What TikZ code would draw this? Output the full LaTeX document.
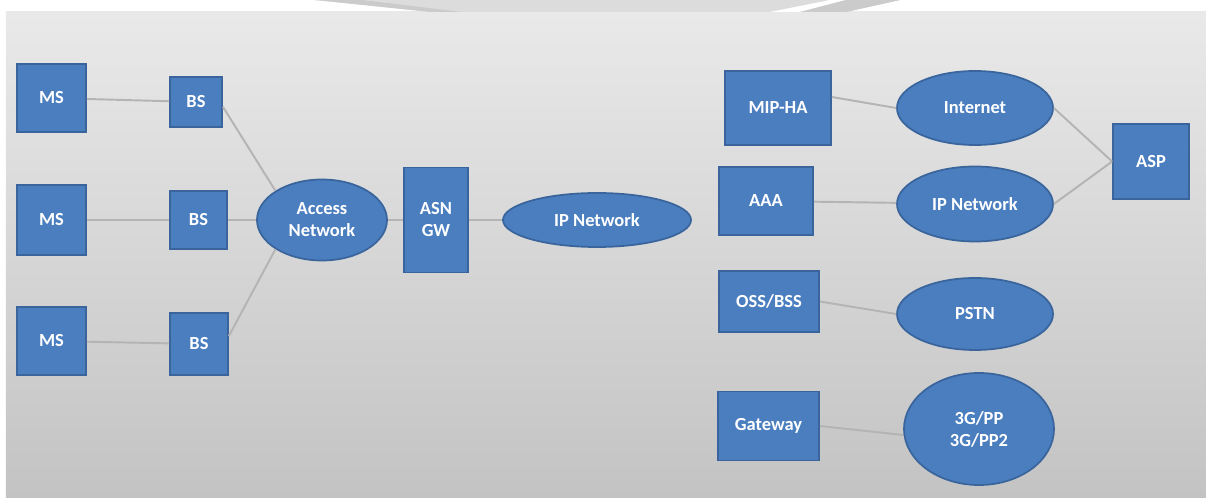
\documentclass[tikz,border=0pt]{standalone}
\usepackage{fontspec}
\setmainfont{Carlito}
\usepackage{tikz}
\usetikzlibrary{positioning}
\usetikzlibrary{shapes.geometric}
\definecolor{boxblue}{HTML}{4A7EBF}
\definecolor{boxedge}{HTML}{3A659C}
\definecolor{linkgray}{HTML}{B4B4B4}
\definecolor{paneltop}{HTML}{E9E9E9}
\definecolor{panelbottom}{HTML}{C3C3C3}
\definecolor{markgray}{HTML}{DCDCDC}
\definecolor{markdark}{HTML}{CBCBCB}

\begin{document}
\begin{tikzpicture}[align=center, node distance=1cm, font=\fontsize{10.5}{12.5}\selectfont\bfseries,
    unit/.style={rectangle, draw=boxedge, fill=boxblue, line width=1pt, text=white, inner sep=0pt},
    net/.style={ellipse, draw=boxedge, fill=boxblue, line width=1pt, text=white, inner sep=0pt},
    link/.style={draw=linkgray, line width=1.1pt}]

\useasboundingbox (0,0) rectangle (24.12,9.96);

%% Background
\shade[top color=paneltop, bottom color=panelbottom] (0.12,0) rectangle (24.12,9.72);
\fill[markgray] (6.30,9.96) -- (18.00,9.96) -- (16.92,9.72) -- (8.62,9.72) -- cycle;
\fill[markdark] (6.30,9.96) -- (7.24,9.96) -- (9.24,9.72) -- (8.62,9.72) -- cycle;
\fill[white] (16.60,9.96) -- (16.92,9.96) -- (16.00,9.72) -- (15.40,9.72) -- cycle;
\fill[markdark] (16.92,9.96) -- (18.00,9.96) -- (16.92,9.72) -- (16.00,9.72) -- cycle;

%% Access side
\draw
    (1.03,5.56) node [unit, name=ms 2, minimum width=1.38cm, minimum height=1.40cm] {MS}
    node [above of=ms 2, node distance=2.44cm, unit, name=ms 1, minimum width=1.38cm, minimum height=1.36cm] {MS}
    node [below of=ms 2, node distance=2.42cm, unit, name=ms 3, minimum width=1.38cm, minimum height=1.36cm] {MS}
    node [right of=ms 2, node distance=2.94cm, unit, name=bs 2, minimum width=1.14cm, minimum height=1.16cm] {BS}
    (3.92,7.92) node [unit, name=bs 1, minimum width=1.04cm, minimum height=1.00cm] {BS}
    (3.98,3.08) node [unit, name=bs 3, minimum width=1.16cm, minimum height=1.24cm] {BS}
    node [right of=bs 2, node distance=2.47cm, net, name=access network, minimum width=2.60cm, minimum height=1.62cm] {Access\\Network}
    node [right of=access network, node distance=2.28cm, unit, name=asn gw, minimum width=1.28cm, minimum height=2.10cm] {ASN\\GW}
    node [right of=asn gw, node distance=3.22cm, net, name=ip network, minimum width=3.76cm, minimum height=1.08cm] {IP Network}
;

%% Core side
\draw
    (15.56,7.80) node [unit, name=mip ha, minimum width=2.12cm, minimum height=1.48cm] {MIP-HA}
    node [right of=mip ha, node distance=3.94cm, net, name=internet, minimum width=3.12cm, minimum height=1.48cm] {Internet}
    (15.32,5.94) node [unit, name=aaa, minimum width=1.88cm, minimum height=1.36cm] {AAA}
    (19.50,5.88) node [net, name=ip network 2, minimum width=3.12cm, minimum height=1.50cm] {IP Network}
    (23.02,6.73) node [unit, name=asp, minimum width=1.52cm, minimum height=1.50cm] {ASP}
    (15.38,3.93) node [unit, name=oss bss, minimum width=2.00cm, minimum height=1.22cm] {OSS/BSS}
    (19.50,3.68) node [net, name=pstn, minimum width=3.12cm, minimum height=1.44cm] {PSTN}
    (15.37,1.44) node [unit, name=gateway, minimum width=2.02cm, minimum height=1.38cm] {Gateway}
    (19.58,1.38) node [net, name=3gpp, minimum width=3.00cm, minimum height=2.24cm] {3G/PP\\3G/PP2}
;

%% Links
\draw[link] (ms 1) -- (bs 1);
\draw[link] (ms 2) -- (bs 2);
\draw[link] (ms 3) -- (bs 3);
\draw[link] (bs 1.-10) -- (access network.north west);
\draw[link] (bs 2) -- (access network);
\draw[link] (bs 3.15) -- (access network.south west);
\draw[link] (access network) -- (asn gw);
\draw[link] (asn gw) -- (ip network);

\draw[link] ([yshift=0.22cm]mip ha.east) -- (internet.west);
\draw[link] (aaa) -- (ip network 2);
\draw[link] (internet.east) -- (asp.west);
\draw[link] (ip network 2.east) -- (asp.west);
\draw[link] (oss bss.east) -- (pstn.west);
\draw[link] (gateway.east) -- ([yshift=-0.12cm]3gpp.west);

\end{tikzpicture}
\end{document}
